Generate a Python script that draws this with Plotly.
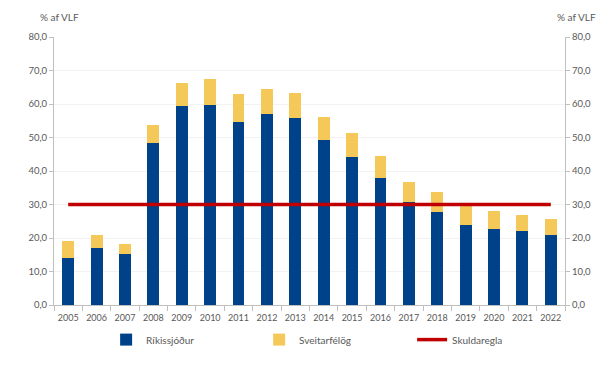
import plotly.graph_objects as go

years = [str(y) for y in range(2005, 2023)]
rikissjodur = [13.9, 16.9, 15.2, 48.3, 59.4, 59.6, 54.7, 57.1, 55.9, 49.2, 44.1, 38.0, 30.8, 27.9, 24.0, 22.8, 22.0, 20.9]
total = [19.1, 20.8, 18.2, 53.7, 66.4, 67.5, 62.9, 64.5, 63.4, 56.1, 51.4, 44.4, 36.7, 33.7, 29.6, 28.0, 27.0, 25.8]
sveitarfelog = [round(t - r, 1) for t, r in zip(total, rikissjodur)]
skuldaregla = [30.0] * len(years)

font_family = "Lato, Open Sans, sans-serif"
tick_color = "#595959"

fig = go.Figure()
fig.add_trace(go.Bar(x=years, y=rikissjodur, name="Ríkissjóður", marker_color="#00428A",
                     marker_line_width=0))
fig.add_trace(go.Bar(x=years, y=sveitarfelog, name="Sveitarfélög", marker_color="#F5C85A",
                     marker_line_width=0))
fig.add_trace(go.Scatter(x=years, y=skuldaregla, name="Skuldaregla", mode="lines",
                         line=dict(color="#C00000", width=3.5)))
# invisible trace for right axis
fig.add_trace(go.Scatter(x=years, y=skuldaregla, yaxis="y2", showlegend=False,
                         mode="lines", line=dict(width=0), hoverinfo="skip", opacity=0))

yaxis_common = dict(range=[0, 80], dtick=10, tickformat=".1f", showline=True,
                    linecolor="#BFBFBF", linewidth=1, ticks="outside", ticklen=4,
                    tickcolor="#BFBFBF", tickfont=dict(size=9.5, color=tick_color, family=font_family),
                    zeroline=False, automargin=False)

fig.update_layout(
    width=600, height=368,
    margin=dict(l=54, r=35, t=37, b=63, autoexpand=False),
    paper_bgcolor="white", plot_bgcolor="white",
    barmode="stack", bargap=0.58,
    separators=",.",
    font=dict(family=font_family, size=10, color=tick_color),
    xaxis=dict(type="category", showline=True, linecolor="#BFBFBF", ticks="outside",
               tickson="boundaries", ticklen=5, tickcolor="#BFBFBF", tickangle=0,
               automargin=False, ticklabelstandoff=4,
               tickfont=dict(size=9, color=tick_color, family=font_family), showgrid=False),
    yaxis=dict(**yaxis_common, showgrid=True, gridcolor="#F2F2F2", gridwidth=1),
    yaxis2=dict(**yaxis_common, overlaying="y", side="right", showgrid=False),
    legend=dict(orientation="h", x=0.102, y=-0.075, xanchor="left", yanchor="top",
                traceorder="normal",
                entrywidth=108, entrywidthmode="pixels",
                font=dict(size=10, color=tick_color, family=font_family),
                itemwidth=30, tracegroupgap=0),
    showlegend=True,
    annotations=[
        dict(text="% af VLF", xref="paper", yref="paper", x=-0.032, y=1.045, xanchor="left",
             yanchor="bottom", showarrow=False, font=dict(size=10, color=tick_color, family=font_family)),
        dict(text="% af VLF", xref="paper", yref="paper", x=1.065, y=1.045, xanchor="right",
             yanchor="bottom", showarrow=False, font=dict(size=10, color=tick_color, family=font_family)),
    ],
)

fig.write_html("out.html", config={"displayModeBar": False},
               post_script="document.body.style.margin='0';")
